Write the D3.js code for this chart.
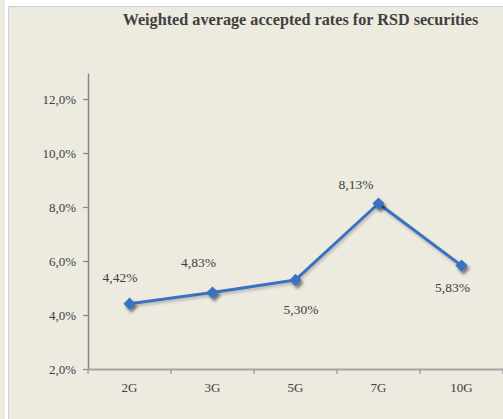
<!DOCTYPE html>
<html>
<head>
<meta charset="utf-8">
<script src="https://cdn.jsdelivr.net/npm/d3@7/dist/d3.min.js"></script>
<style>
  html, body { margin: 0; padding: 0; background: #ffffff; }
  svg { display: block; }
</style>
</head>
<body>
<script>
// ---- data ----
const categories = ["2G", "3G", "5G", "7G", "10G"];
const rates = [4.42, 4.83, 5.30, 8.13, 5.83];
const rateLabels = ["4,42%", "4,83%", "5,30%", "8,13%", "5,83%"];
const yTicks = [2, 4, 6, 8, 10, 12];
const yTickLabels = ["2,0%", "4,0%", "6,0%", "8,0%", "10,0%", "12,0%"];
const title = "Weighted average accepted rates for RSD securities";

// ---- layout ----
const W = 503, H = 419;
const plot = { left: 88, right: 503, top: 73, bottom: 369 };
// label offsets relative to each marker (layout only)
const labelOffsets = [[-9.5, -26], [-14, -30], [5.5, 29], [-22.5, -19.5], [-9, 22]];

const svg = d3.select("body").append("svg").attr("width", W).attr("height", H);

const defs = svg.append("defs");
function shadow(id, dev, dx, dy, a) {
  const f = defs.append("filter").attr("id", id)
    .attr("x", "-50%").attr("y", "-50%").attr("width", "200%").attr("height", "200%");
  f.append("feGaussianBlur").attr("in", "SourceAlpha").attr("stdDeviation", dev).attr("result", "b");
  f.append("feOffset").attr("in", "b").attr("dx", dx).attr("dy", dy).attr("result", "o");
  f.append("feComponentTransfer").attr("in", "o").attr("result", "o2")
    .append("feFuncA").attr("type", "linear").attr("slope", a);
  const m = f.append("feMerge");
  m.append("feMergeNode").attr("in", "o2");
  m.append("feMergeNode").attr("in", "SourceGraphic");
}
shadow("shadowL", 1.5, 1, 2, 0.25);
shadow("shadowM", 1.8, 1.5, 2.5, 0.5);

// backgrounds
svg.append("rect").attr("x", 0).attr("y", 0).attr("width", W).attr("height", H).attr("fill", "#ffffff");
svg.append("rect").attr("x", 0).attr("y", 0).attr("width", 5).attr("height", H).attr("fill", "#edeae0");
svg.append("rect").attr("x", 8).attr("y", 6).attr("width", W - 8).attr("height", H - 6).attr("fill", "#edeae0");
svg.append("line").attr("x1", 8.5).attr("x2", 8.5).attr("y1", 6).attr("y2", H).attr("stroke", "#c8cfd8").attr("stroke-width", 1);
svg.append("line").attr("x1", 8).attr("x2", W).attr("y1", 6.5).attr("y2", 6.5).attr("stroke", "#c8cfd8").attr("stroke-width", 1);

// title
svg.append("text").attr("x", 300.5).attr("y", 25)
  .attr("text-anchor", "middle")
  .attr("font-family", "'Liberation Serif', 'Times New Roman', serif")
  .attr("font-weight", "bold").attr("font-size", 16.2).attr("fill", "#404040")
  .text(title);

// scales
const x = d3.scaleBand().domain(categories).range([plot.left, plot.right]);
const y = d3.scaleLinear().domain([2, 2 + (plot.bottom - plot.top) / 27]).range([plot.bottom, plot.top]);

// y axis
const yAxis = d3.axisLeft(y).tickValues(yTicks).tickSize(5).tickSizeOuter(0)
  .tickFormat((d, i) => yTickLabels[i]);
const gy = svg.append("g").attr("transform", `translate(${plot.left},0)`).call(yAxis);
gy.select(".domain").attr("stroke", "#868686").attr("stroke-width", 1.5);
gy.selectAll(".tick line").attr("stroke", "#868686").attr("stroke-width", 1.2);
gy.selectAll(".tick text")
  .attr("x", -12)
  .attr("font-family", "'Liberation Serif', 'Times New Roman', serif")
  .attr("font-size", 13).attr("fill", "#404040");

// x axis
const xAxis = d3.axisBottom(x).tickSize(0).tickSizeOuter(0);
const gx = svg.append("g").attr("transform", `translate(0,${plot.bottom})`).call(xAxis);
gx.select(".domain").attr("stroke", "#a3a3a3").attr("stroke-width", 2);
gx.selectAll(".tick text")
  .attr("y", 14)
  .attr("font-family", "'Liberation Serif', 'Times New Roman', serif")
  .attr("font-size", 13).attr("fill", "#404040");
// category boundary ticks
const bounds = categories.map(c => x(c)).concat([x(categories[categories.length - 1]) + x.bandwidth()]);
gx.selectAll(".btick").data(bounds).enter().append("line")
  .attr("x1", d => d).attr("x2", d => d).attr("y1", 0).attr("y2", 5)
  .attr("stroke", "#a3a3a3").attr("stroke-width", 1.5);

// line
const cx = c => x(c) + x.bandwidth() / 2;
const data = categories.map((c, i) => ({ c, v: rates[i], label: rateLabels[i], off: labelOffsets[i] }));
svg.append("path").datum(data)
  .attr("filter", "url(#shadowL)")
  .attr("d", d3.line().x(d => cx(d.c)).y(d => y(d.v)))
  .attr("fill", "none").attr("stroke", "#3b72c0").attr("stroke-width", 3)
  .attr("stroke-linejoin", "round");
svg.selectAll(".mk").data(data).enter().append("path")
  .attr("filter", "url(#shadowM)")
  .attr("transform", d => `translate(${cx(d.c)},${y(d.v)})`)
  .attr("d", d3.symbol().type(d3.symbolDiamond2).size(95))
  .attr("fill", "#3b72c0");

// data labels
svg.selectAll(".lbl").data(data).enter().append("text")
  .attr("x", d => cx(d.c) + d.off[0])
  .attr("y", d => y(d.v) + d.off[1])
  .attr("dy", "0.35em")
  .attr("text-anchor", "middle")
  .attr("font-family", "'Liberation Serif', 'Times New Roman', serif")
  .attr("font-size", 13.5).attr("fill", "#404040")
  .text(d => d.label);
</script>
</body>
</html>
